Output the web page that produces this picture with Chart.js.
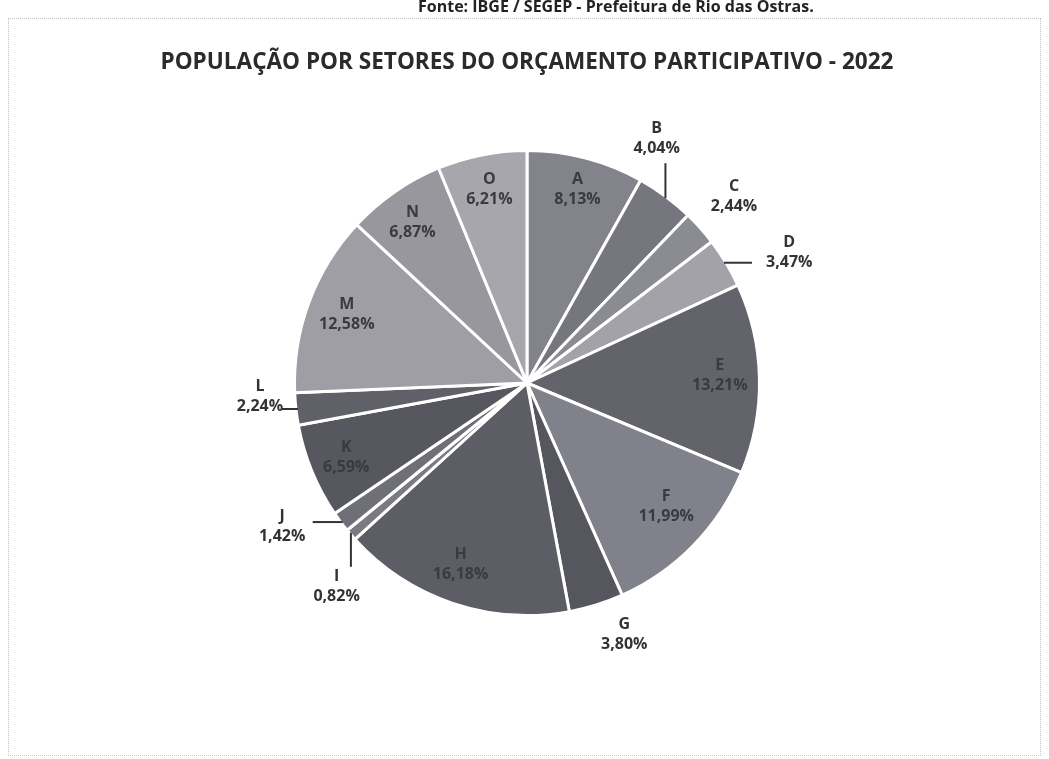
<!DOCTYPE html>
<html>
<head>
<meta charset="utf-8">
<script src="https://cdn.jsdelivr.net/npm/chart.js@4.4.0/dist/chart.umd.min.js"></script>
<style>
  body{margin:0;background:#fff;overflow:hidden;}
  .moldura{position:absolute;left:8px;top:18px;width:1031px;height:736px;border:1px dotted #c4c4c4;}
  #grafico{position:absolute;left:0;top:0;}
</style>
</head>
<body>
<div class="moldura"></div>
<canvas id="grafico" width="1049" height="759"></canvas>
<script>
const setores = ['A','B','C','D','E','F','G','H','I','J','K','L','M','N','O'];
const populacaoPct = [8.13, 4.04, 2.44, 3.47, 13.21, 11.99, 3.80, 16.18, 0.82, 1.42, 6.59, 2.24, 12.58, 6.87, 6.21];
const titulo = 'POPULAÇÃO POR SETORES DO ORÇAMENTO PARTICIPATIVO - 2022';
const fonte = 'Fonte: IBGE / SEGEP - Prefeitura de Rio das Ostras.';

// tons de cinza das fatias (escaneado)
const cores = ['#83838b','#76777e','#8b8c92','#a2a2a8','#62636b','#80818a','#55565e','#5c5d65',
               '#7a7b82','#6f7077','#56575f','#5f6068','#9e9ea4','#97979d','#a6a6ac'];

// posição do rótulo: [desvio de ângulo em graus, fração do raio]
const posRotulo = {
  A:[0,0.86], B:[-8.6,1.19], C:[-0.3,1.20], D:[4.7,1.26], E:[-1.2,0.83], F:[-2.7,0.80],
  G:[-3.8,1.16], H:[1.5,0.83], I:[-6.2,1.20], J:[6.4,1.22], K:[0,0.84], L:[3.6,1.15],
  M:[0.7,0.83], N:[-0.7,0.85], O:[0.2,0.85]
};
// linhas de chamada: direção e comprimento
const chamadas = { B:['up',33], D:['right',26], I:['down',32], J:['left',28], L:['left',14] };

const rotulosPlugin = {
  id: 'rotulos',
  afterDraw(chart) {
    const ctx = chart.ctx;
    ctx.save();
    // fonte (cortada no topo)
    ctx.fillStyle = '#222';
    ctx.font = 'bold 16px "Open Sans"';
    ctx.textAlign = 'left';
    ctx.textBaseline = 'alphabetic';
    ctx.fillText(fonte, 418, 12, 412);
    // título
    ctx.fillStyle = '#2b2b2b';
    ctx.font = 'bold 24px "Open Sans"';
    ctx.textAlign = 'center';
    ctx.textBaseline = 'middle';
    ctx.fillText(titulo, 527, 62, 733);

    const arcs = chart.getDatasetMeta(0).data;
    arcs.forEach((arc, i) => {
      const s = setores[i];
      const mid = (arc.startAngle + arc.endAngle) / 2;
      const R = arc.outerRadius;
      const p = posRotulo[s];
      const a = mid + p[0] * Math.PI / 180;
      const lx = arc.x + Math.cos(a) * R * p[1];
      const ly = arc.y + Math.sin(a) * R * p[1];
      const fora = p[1] > 1;
      ctx.fillStyle = fora ? '#333' : '#3a3a42';
      ctx.font = 'bold 16px "Open Sans"';
      ctx.textAlign = 'center';
      ctx.textBaseline = 'middle';
      ctx.fillText(s, lx, ly - 10);
      ctx.fillText(populacaoPct[i].toFixed(2).replace('.', ',') + '%', lx, ly + 10);

      const c = chamadas[s];
      if (c) {
        const ex = arc.x + Math.cos(mid) * R;
        const ey = arc.y + Math.sin(mid) * R;
        const d = {up:[0,-1], down:[0,1], left:[-1,0], right:[1,0]}[c[0]];
        ctx.strokeStyle = '#333';
        ctx.lineWidth = 2;
        ctx.beginPath();
        ctx.moveTo(ex - d[0] * 2, ey - d[1] * 2);
        ctx.lineTo(ex + d[0] * c[1], ey + d[1] * c[1]);
        ctx.stroke();
      }
    });
    ctx.restore();
  }
};

const ctx1 = document.getElementById('grafico').getContext('2d');
const grafico = new Chart(ctx1, {
  type: 'pie',
  data: {
    labels: setores,
    datasets: [{
      data: populacaoPct,
      backgroundColor: cores,
      borderColor: '#fff',
      borderWidth: 3
    }]
  },
  options: {
    responsive: false,
    animation: false,
    layout: { padding: { left: 293, right: 288, top: 149, bottom: 142 } },
    plugins: { legend: { display: false }, tooltip: { enabled: false } }
  },
  plugins: [rotulosPlugin]
});
</script>
</body>
</html>
